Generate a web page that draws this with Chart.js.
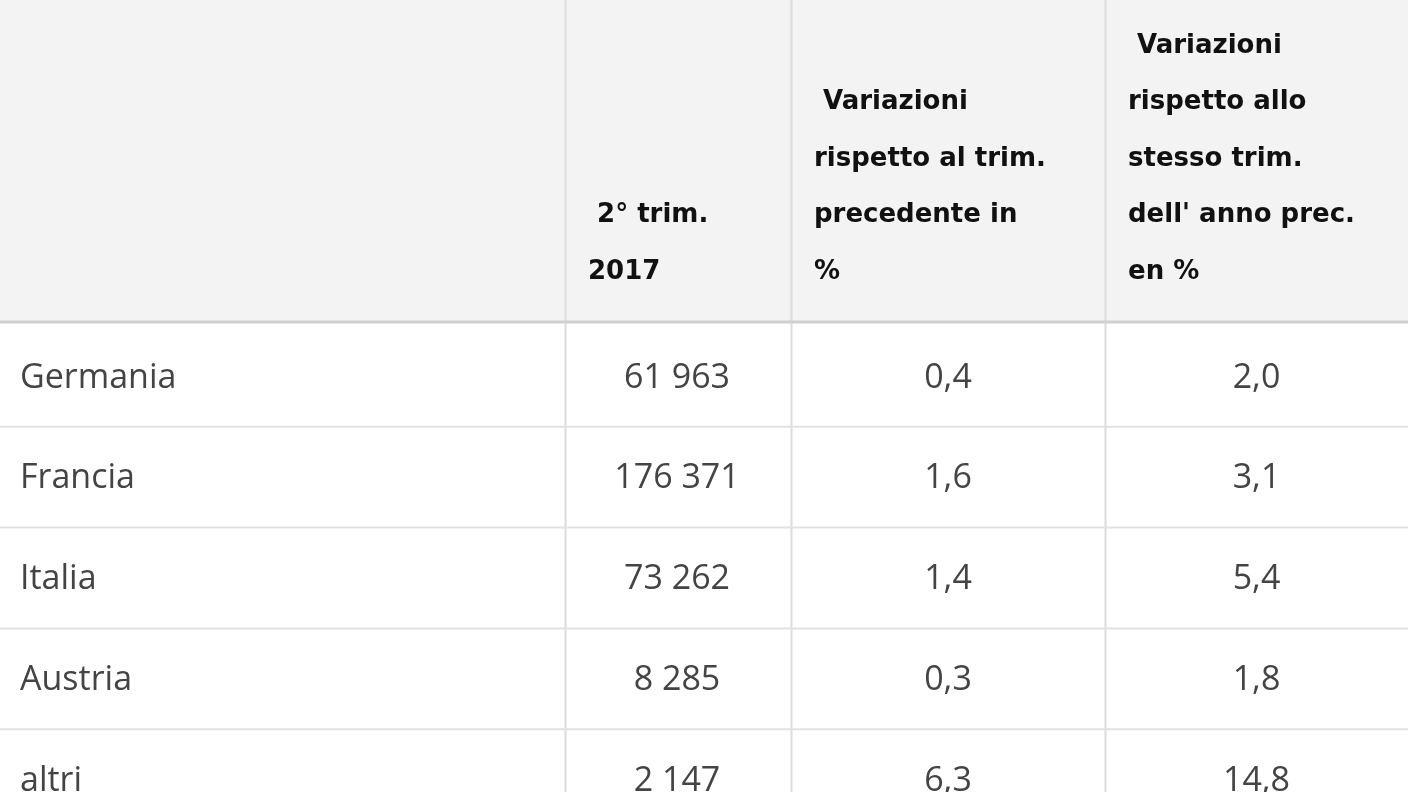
<!DOCTYPE html>
<html><head><meta charset="utf-8">
<script src="https://cdn.jsdelivr.net/npm/chart.js@4"></script>
<style>html,body{margin:0;padding:0;background:#fff;overflow:hidden}canvas{display:block}</style>
</head><body>
<canvas id="c" width="1408" height="792"></canvas>
<script>
const categories = ["Germania","Francia","Italia","Austria","altri"];
const valori2017 = ["61 963","176 371","73 262","8 285","2 147"];
const varTrimPrec = ["0,4","1,6","1,4","0,3","6,3"];
const varAnnoPrec = ["2,0","3,1","5,4","1,8","14,8"];
const headers = [
  [],
  [" 2° trim.","2017"],
  [" Variazioni","rispetto al trim.","precedente in","%"],
  [" Variazioni","rispetto allo","stesso trim.","dell' anno prec.","en %"]
];

const colEdges = [0,565,791,1105,1408];
const headerBottom = 322;
const rowH = 100.8;

const tablePlugin = {
  id:'table',
  beforeDraw(chart){
    const ctx = chart.ctx, X = chart.scales.x, Y = chart.scales.y;
    const px = v => X.getPixelForValue(v), py = v => Y.getPixelForValue(v);
    ctx.save();
    ctx.fillStyle='#fff'; ctx.fillRect(0,0,chart.width,chart.height);
    ctx.fillStyle='#f3f3f3'; ctx.fillRect(px(0),py(0),px(1408)-px(0),py(headerBottom)-py(0));
    ctx.strokeStyle='#dcdcdc'; ctx.lineWidth=2;
    for(let i=1;i<colEdges.length-1;i++){
      ctx.beginPath(); ctx.moveTo(px(colEdges[i])+0.5,py(0)); ctx.lineTo(px(colEdges[i])+0.5,py(792)); ctx.stroke();
    }
    ctx.strokeStyle='#d0d0d0'; ctx.lineWidth=3;
    ctx.beginPath(); ctx.moveTo(0,py(headerBottom)); ctx.lineTo(px(1408),py(headerBottom)); ctx.stroke();
    ctx.strokeStyle='#e2e2e2'; ctx.lineWidth=2;
    for(let r=1;r<categories.length;r++){
      const y=py(headerBottom+4+rowH*r);
      ctx.beginPath(); ctx.moveTo(0,y); ctx.lineTo(px(1408),y); ctx.stroke();
    }
    ctx.fillStyle='#111'; ctx.font='bold 26px "DejaVu Sans", sans-serif';
    ctx.textBaseline='middle'; ctx.textAlign='left';
    headers.forEach((lines,c)=>{
      const n=lines.length;
      lines.forEach((t,i)=>{
        const y=272-(n-1-i)*56.5;
        ctx.fillText(t,px(colEdges[c]+23),py(y));
      });
    });
    ctx.font='34px "Open Sans", sans-serif'; ctx.fillStyle='#444';
    const cols=[categories,valori2017,varTrimPrec,varAnnoPrec];
    categories.forEach((_,r)=>{
      const y=378+rowH*r;
      cols.forEach((arr,c)=>{
        if(c===0){ctx.textAlign='left'; ctx.fillText(arr[r],px(20),py(y));}
        else {ctx.textAlign='center'; ctx.fillText(arr[r],px((colEdges[c]+colEdges[c+1])/2+(c===1?-1:0)),py(y));}
      });
    });
    ctx.restore();
  }
};

new Chart(document.getElementById('c'),{
  type:'scatter',
  data:{datasets:[{data:categories.map((c,i)=>({x:20,y:378+rowH*i})),pointRadius:0}]},
  options:{
    responsive:false, animation:false, devicePixelRatio:1,
    layout:{padding:0},
    plugins:{legend:{display:false},tooltip:{enabled:false}},
    scales:{
      x:{type:'linear',min:0,max:1408,display:false},
      y:{type:'linear',min:0,max:792,reverse:true,display:false}
    }
  },
  plugins:[tablePlugin]
});
</script>
</body></html>
